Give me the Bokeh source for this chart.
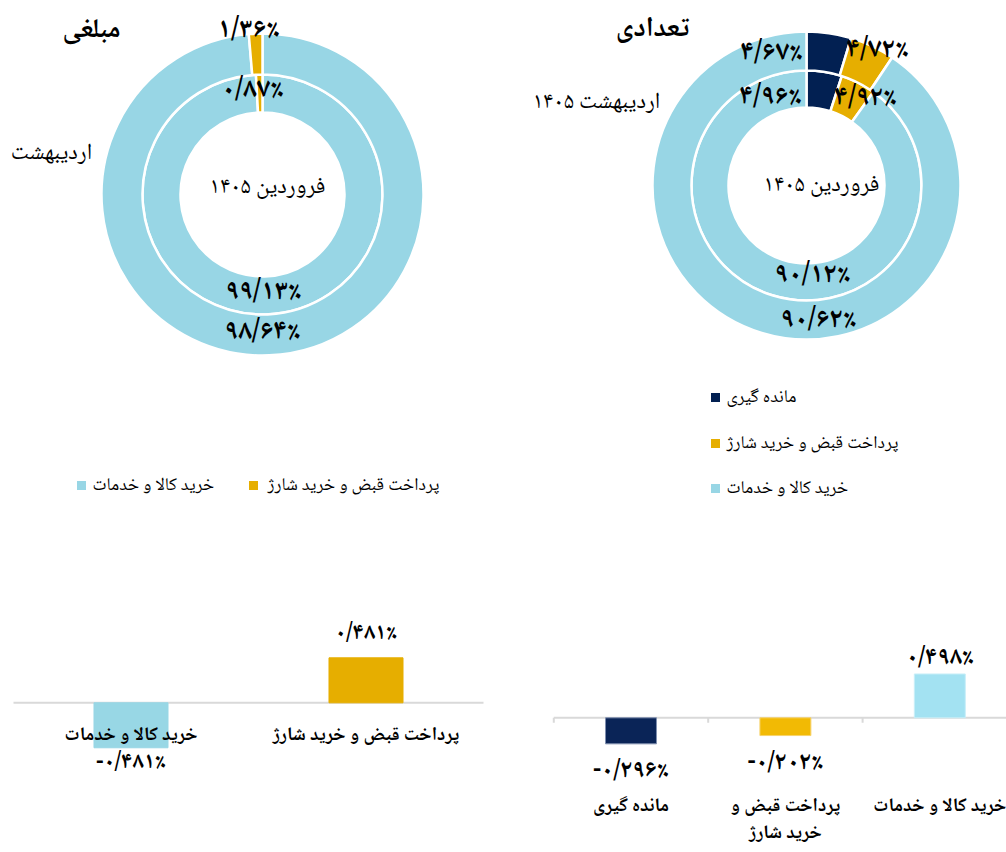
import numpy as np
from bokeh.plotting import figure
from bokeh.models import Range1d
from bokeh.layouts import column, row
from bokeh.core.properties import value
from bokeh.embed import file_html
from bokeh.resources import INLINE

# ---------------- DATA ----------------
amount_title = "مبلغی"
count_title = "تعدادی"

# donut (share of amount), clockwise from 12 o'clock
amount_categories = ["خرید کالا و خدمات", "پرداخت قبض و خرید شارژ"]
amount_farvardin = [99.13, 0.87]
amount_ordibehesht = [98.64, 1.36]
amount_ring_names = ["فروردین ۱۴۰۵", "اردیبهشت"]

# donut (share of count), clockwise from 12 o'clock
count_categories = ["مانده گیری", "پرداخت قبض و خرید شارژ", "خرید کالا و خدمات"]
count_farvardin = [4.96, 4.92, 90.12]
count_ordibehesht = [4.67, 4.72, 90.62]
count_ring_names = ["فروردین ۱۴۰۵", "اردیبهشت ۱۴۰۵"]

# legends
amount_legend = ["خرید کالا و خدمات", "پرداخت قبض و خرید شارژ"]
count_legend = ["مانده گیری", "پرداخت قبض و خرید شارژ", "خرید کالا و خدمات"]

# change bars (percentage points)
amount_change_categories = ["خرید کالا و خدمات", "پرداخت قبض و خرید شارژ"]
amount_change = [-0.481, 0.481]
amount_change_tick_labels = ["خرید کالا و خدمات", "پرداخت قبض و خرید شارژ"]

count_change_categories = ["مانده گیری", "پرداخت قبض و خرید شارژ", "خرید کالا و خدمات"]
count_change = [-0.296, -0.202, 0.498]
count_change_tick_labels = ["مانده گیری", "پرداخت قبض و\nخرید شارژ", "خرید کالا و خدمات"]

# ---------------- STYLE ----------------
FONT = "Noto Naskh Arabic, DejaVu Sans"
DONUT_COLORS = {
    "مانده گیری": "#022052",
    "پرداخت قبض و خرید شارژ": "#E6AE00",
    "خرید کالا و خدمات": "#98D6E5",
}
BAR_COLORS_LEFT = {
    "پرداخت قبض و خرید شارژ": "#E6AE00",
    "خرید کالا و خدمات": "#98D7E5",
}
BAR_COLORS_RIGHT = {
    "مانده گیری": "#0A2457",
    "پرداخت قبض و خرید شارژ": "#F2BA04",
    "خرید کالا و خدمات": "#A3E2F2",
}
BAR_LINES_RIGHT = {
    "مانده گیری": "#7F8FAF",
    "پرداخت قبض و خرید شارژ": "#F7D36A",
    "خرید کالا و خدمات": "#C8EEF8",
}

FA = str.maketrans("0123456789.", "۰۱۲۳۴۵۶۷۸۹/")


def fa_pct(v, nd):
    s = f"{abs(v):.{nd}f}".translate(FA) + "٪"
    return ("-" + s) if v < 0 else s


def ring_angles(vals):
    v = np.asarray(vals, dtype=float)
    cum = np.concatenate([[0.0], np.cumsum(v / v.sum())])
    start = np.pi / 2 - 2 * np.pi * cum[:-1]
    end = np.pi / 2 - 2 * np.pi * cum[1:]
    return start, end


def txt(p, xs, ys, texts, size, bold=False, align="center"):
    p.text(x=list(xs), y=list(ys), text=list(texts), text_font=value(FONT),
           text_font_size=size, text_font_style="bold" if bold else "normal",
           text_align=align, text_baseline="middle", text_color="black")


def base_fig(W, H, xr, yr):
    p = figure(width=W, height=H, output_backend="svg", toolbar_location=None,
               x_range=xr, y_range=yr, x_axis_type=None, y_axis_type=None,
               min_border=0, title=None, outline_line_color=None,
               background_fill_color="white", border_fill_color="white")
    return p


def donut_figure(title, cats, inner_vals, outer_vals, ring_names, legend, lay):
    L, T, W, H = lay["frame"]
    cx, cy = lay["center"]
    p = base_fig(W, H, Range1d(L - cx, L + W - cx), Range1d(cy - (T + H), cy - T))

    def P(px, py):
        return px - cx, cy - py

    colors = [DONUT_COLORS[c] for c in cats]
    rings = [(inner_vals, lay["inner"]), (outer_vals, lay["outer"])]
    for vals, (r0, r1) in rings:
        s, e = ring_angles(vals)
        p.annular_wedge(x=0, y=0, inner_radius=r0, outer_radius=r1,
                        start_angle=s, end_angle=e, direction="clock",
                        fill_color=colors, line_color="white", line_width=2.5)

    for ri, (vals, _) in enumerate(rings):
        pts = [P(*q) for q in lay["value_pos"][ri]]
        txt(p, [q[0] for q in pts], [q[1] for q in pts],
            [fa_pct(v, 2) for v in vals], lay["value_size"], bold=True)

    pts = [P(*q) for q in lay["name_pos"]]
    txt(p, [q[0] for q in pts], [q[1] for q in pts], ring_names, lay["name_size"])

    tx, ty = P(*lay["title_pos"])
    txt(p, [tx], [ty], [title], lay["title_size"], bold=True)

    sq = [P(*q) for q in lay["legend_sq"]]
    p.scatter(x=[q[0] for q in sq], y=[q[1] for q in sq], marker="square", size=9,
              fill_color=[DONUT_COLORS[c] for c in legend], line_color=None)
    tp = [P(*q) for q in lay["legend_txt"]]
    txt(p, [q[0] for q in tp], [q[1] for q in tp], legend, "18px", align="left")
    return p


def bar_figure(cats, vals, tick_labels, fills, lines, lay):
    L, T, W, H = lay["frame"]
    x0, cw = lay["x0"], lay["cat_width"]
    y0, ppu = lay["baseline"], lay["ppu"]
    p = base_fig(W, H, Range1d((L - x0) / cw, (L + W - x0) / cw),
                 Range1d((y0 - (T + H)) / ppu, (y0 - T) / ppu))
    n = len(cats)
    xs = np.arange(n) + 0.5
    vals = np.asarray(vals, dtype=float)

    p.segment(x0=0, y0=0, x1=n, y1=0, line_color="#D9D9D9", line_width=2)
    if lay.get("ticks"):
        tk = np.arange(n + 1)
        p.segment(x0=tk, y0=0, x1=tk, y1=-5 / ppu, line_color="#D9D9D9", line_width=2)

    p.vbar(x=xs, top=vals, bottom=0, width=lay["bar_width"],
           fill_color=[fills[c] for c in cats],
           line_color=[lines[c] for c in cats], line_width=1)

    ly = np.where(vals >= 0, vals + lay["above"] / ppu, vals - lay["below"] / ppu)
    txt(p, xs, ly, [fa_pct(v, 3) for v in vals], lay["value_size"], bold=True)

    cy0 = (y0 - lay["cat_label_y"]) / ppu
    lx, lyy, lt = [], [], []
    for i, lab in enumerate(tick_labels):
        for j, line in enumerate(lab.split("\n")):
            lx.append(xs[i])
            lyy.append(cy0 - j * lay["line_gap"] / ppu)
            lt.append(line)
    txt(p, lx, lyy, lt, lay["cat_size"], bold=True)
    return p


# ---------------- LAYOUT (page pixels) ----------------
LEFT_DONUT = dict(
    frame=(0, 0, 503, 528), center=(262, 194), inner=(82, 120), outer=(120, 161),
    value_pos=[[(263, 292), (252, 90)], [(262, 332), (248, 30)]],
    value_size="28px",
    name_pos=[(267, 187), (51, 153)], name_size="23px",
    title_pos=(91, 30), title_size="27px",
    legend_sq=[(81, 485), (253, 485)], legend_txt=[(92, 485), (267, 485)],
)
RIGHT_DONUT = dict(
    frame=(503, 0, 503, 528), center=(806, 185), inner=(78, 115), outer=(115, 154),
    value_pos=[[(770, 97), (865, 98), (812, 275)], [(771, 53), (877, 50), (818, 320)]],
    value_size="28px",
    name_pos=[(821, 185), (596, 102)], name_size="23px",
    title_pos=(652, 29), title_size="28px",
    legend_sq=[(715, 397), (715, 443), (715, 488)],
    legend_txt=[(726, 397), (726, 443), (726, 488)],
)
LEFT_BARS = dict(
    frame=(0, 528, 503, 324), x0=13, cat_width=235, baseline=702.3, ppu=93.5,
    bar_width=0.315, above=24, below=15, value_size="23px",
    cat_label_y=735, line_gap=31, ticks=False, cat_size="19px",
)
RIGHT_BARS = dict(
    frame=(503, 528, 503, 324), x0=553.3, cat_width=154.4, baseline=717.3, ppu=88,
    bar_width=0.33, above=15, below=28, value_size="25px",
    cat_label_y=806, line_gap=27, ticks=True, cat_size="19px",
)

d1 = donut_figure(amount_title, amount_categories, amount_farvardin, amount_ordibehesht,
                  amount_ring_names, amount_legend, LEFT_DONUT)
d2 = donut_figure(count_title, count_categories, count_farvardin, count_ordibehesht,
                  count_ring_names, count_legend, RIGHT_DONUT)
b1 = bar_figure(amount_change_categories, amount_change, amount_change_tick_labels,
                BAR_COLORS_LEFT, BAR_COLORS_LEFT, LEFT_BARS)
b2 = bar_figure(count_change_categories, count_change, count_change_tick_labels,
                BAR_COLORS_RIGHT, BAR_LINES_RIGHT, RIGHT_BARS)

page = column(row(d1, d2), row(b1, b2))
open("out.html", "w").write(file_html(page, INLINE))
